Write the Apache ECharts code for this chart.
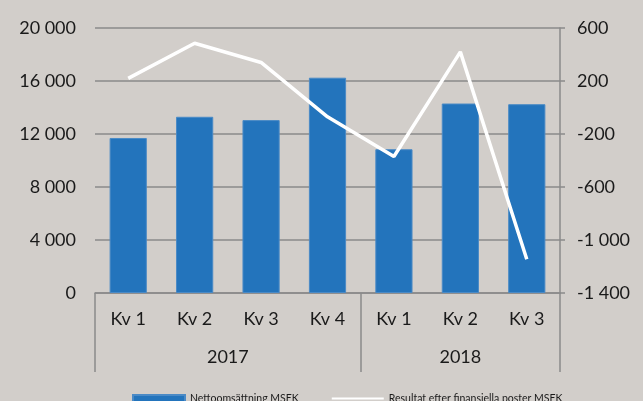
<!DOCTYPE html>
<html>
<head>
<meta charset="utf-8">
<script src="https://cdn.jsdelivr.net/npm/echarts@6/dist/echarts.min.js"></script>
<style>
    html, body { margin: 0; padding: 0; background: #d2ceca; }
    #chart { width: 643px; height: 401px; }
</style>
</head>
<body>
<div id="chart"></div>
<script>
// data
const quarters = ['Kv 1', 'Kv 2', 'Kv 3', 'Kv 4', 'Kv 1', 'Kv 2', 'Kv 3']
const years = ['2017', '2018']
const yearSpans = [4, 3]
const netSales = [11700, 13300, 13050, 16250, 10850, 14300, 14250]
const result = [220, 485, 340, -70, -370, 420, -1145]
const rightTicks = [-1400, -1000, -600, -200, 200, 600]

const salesName = 'Nettoomsättning MSEK'
const resultName = 'Resultat efter finansiella poster MSEK'

const font = 'Lato'
const textColor = '#1a1a1a'
const gridGray = '#8a8a8a'

// thousands with a space, like "20 000"
function fmt(v) {
    let s = Math.abs(v).toString().replace(/\B(?=(\d{3})+(?!\d))/g, ' ')
    return (v < 0 ? '-' : '') + s
}

// boundaries and label positions for the year row
let bounds = [0]
let yearPos = []
for (let i = 0; i < yearSpans.length; i++) {
    let start = bounds[bounds.length - 1]
    yearPos.push(start + yearSpans[i] / 2)
    bounds.push(start + yearSpans[i])
}

let chart = echarts.init(document.getElementById('chart'))
let option = {
    backgroundColor: '#d2ceca',
    animation: false,
    textStyle: { fontFamily: font, color: textColor },
    grid: { left: 95, right: 83, top: 28, bottom: 108 },
    legend: {
        left: 132,
        top: 393,
        padding: 0,
        itemGap: 32,
        itemWidth: 52,
        itemHeight: 7,
        textStyle: { fontSize: 10.5, color: textColor, fontFamily: font },
        data: [
            { name: salesName, icon: 'rect' },
            { name: resultName, itemStyle: { opacity: 0 } }
        ]
    },
    xAxis: [
        {
            type: 'category',
            data: quarters,
            axisLine: { onZero: false, lineStyle: { color: gridGray, width: 1.5 } },
            axisTick: { show: false },
            axisLabel: { fontSize: 18, color: textColor, margin: 17 }
        },
        {
            type: 'value',
            min: 0,
            max: bounds[bounds.length - 1],
            position: 'bottom',
            axisLine: { show: false, onZero: false },
            splitLine: { show: false },
            axisTick: {
                show: true,
                customValues: bounds,
                length: 79,
                lineStyle: { color: gridGray, width: 1.5 }
            },
            axisLabel: {
                customValues: yearPos,
                fontSize: 18,
                color: textColor,
                margin: 55,
                formatter: function (v) {
                    let i = yearPos.indexOf(v)
                    return i >= 0 ? years[i] : ''
                }
            }
        }
    ],
    yAxis: [
        {
            type: 'value',
            min: 0,
            max: 20000,
            interval: 4000,
            axisLine: { show: false },
            axisTick: { show: false },
            splitLine: { lineStyle: { color: gridGray, width: 1.5 } },
            axisLabel: { fontSize: 18, color: textColor, margin: 19, formatter: fmt }
        },
        {
            type: 'value',
            min: -1400,
            max: 600,
            position: 'right',
            axisLine: { show: true, onZero: false, lineStyle: { color: gridGray, width: 1.5 } },
            axisTick: { show: true, length: 5, customValues: rightTicks, lineStyle: { color: gridGray, width: 1.5 } },
            splitLine: { show: false },
            axisLabel: { customValues: rightTicks, fontSize: 18, color: textColor, margin: 17, formatter: fmt }
        }
    ],
    series: [
        {
            name: salesName,
            type: 'bar',
            data: netSales,
            barWidth: '56%',
            itemStyle: { color: '#2374bc', borderColor: '#4a8ac6', borderWidth: 1 }
        },
        {
            name: resultName,
            type: 'line',
            yAxisIndex: 1,
            data: result,
            symbol: 'none',
            lineStyle: { color: '#ffffff', width: 3.5 },
            itemStyle: { color: '#ffffff' }
        }
    ]
}
chart.setOption(option)
</script>
</body>
</html>
